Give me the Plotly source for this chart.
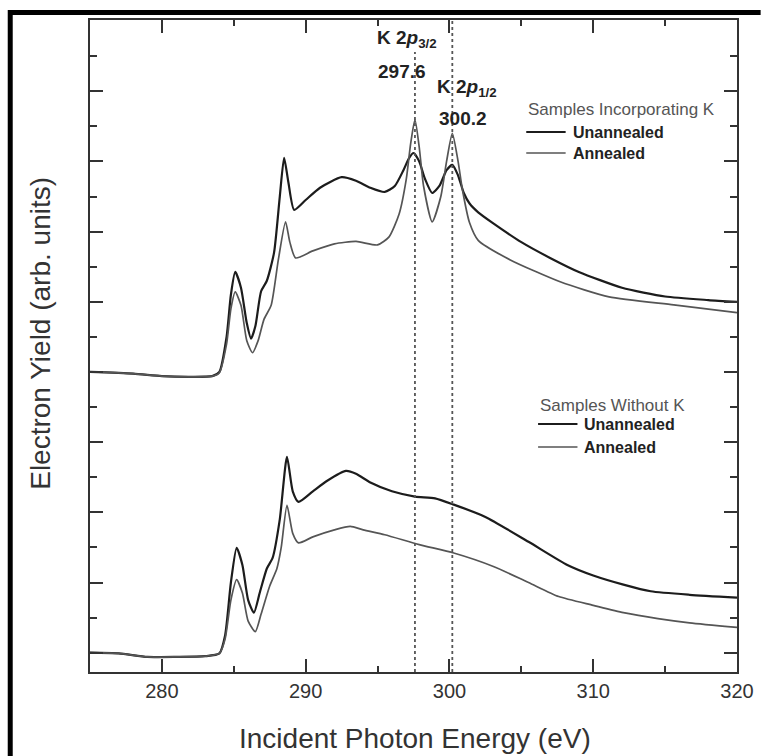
import plotly.graph_objects as go

# ---------------- data ----------------
# Samples incorporating K, unannealed
E_K_UNANN = [275, 278, 280, 282, 283.5, 284.0, 284.5, 284.8, 285.1, 285.5, 285.9, 286.2, 286.5, 286.9,
             287.3, 287.8, 288.2, 288.5, 288.8, 289.2, 290, 291, 292.5, 293.5, 294.5, 295.5, 296.2,
             296.8, 297.2, 297.5, 297.9, 298.3, 298.8, 299.3, 299.8, 300.2, 300.6, 301.0, 301.4, 302,
             303, 305, 307, 309, 312, 315, 318, 320]
Y_K_UNANN = [8.0, 7.95, 7.88, 7.86, 7.88, 8.0, 9.0, 10.2, 10.85, 10.4, 9.4, 8.95, 9.3, 10.3,
             10.6, 11.4, 13.0, 14.1, 13.4, 12.62, 12.9, 13.25, 13.55, 13.45, 13.25, 13.13, 13.3,
             13.75, 14.1, 14.24, 14.0, 13.5, 13.1, 13.3, 13.75, 13.9, 13.6, 13.1, 12.8, 12.55,
             12.25, 11.7, 11.25, 10.85, 10.4, 10.15, 10.05, 10.0]

# Samples incorporating K, annealed
E_K_ANN = [275, 278, 280, 282, 283.5, 284.0, 284.5, 284.8, 285.1, 285.5, 285.9, 286.3, 286.7, 287.1,
           287.6, 288.1, 288.6, 288.9, 289.3, 290.5, 292, 293.5, 295, 295.8, 296.5, 297.0, 297.3,
           297.6, 297.9, 298.2, 298.8, 299.4, 299.8, 300.2, 300.6, 300.9, 301.4, 302, 304.2, 307.7,
           311.1, 315.6, 320]
Y_K_ANN = [8.0, 7.95, 7.88, 7.86, 7.88, 7.98, 8.8, 9.8, 10.28, 9.9, 8.9, 8.55, 8.9, 9.5,
           9.9, 11.2, 12.28, 11.7, 11.25, 11.45, 11.65, 11.72, 11.62, 11.85, 12.5, 13.5, 14.5,
           15.19, 14.4, 13.3, 12.28, 13.0, 14.0, 14.8, 14.0, 13.2, 12.25, 11.75, 11.2, 10.57,
           10.14, 9.91, 9.69]

# Samples without K, unannealed
E_NOK_UNANN = [275, 277, 279, 281, 283, 284.0, 284.4, 284.8, 285.2, 285.6, 286.0, 286.4, 286.8, 287.3,
               287.7, 288.2, 288.7, 289.1, 289.5, 290.5, 291.5, 292.8, 293.5, 294.5, 296, 297.6, 299,
               300.3, 302.5, 305.5, 308.2, 310, 312.1, 314, 316.7, 320]
Y_NOK_UNANN = [0.0, -0.02, -0.12, -0.12, -0.1, -0.02, 0.5, 2.0, 2.99, 2.5, 1.5, 1.14, 1.7, 2.4,
               2.7, 3.8, 5.58, 4.6, 4.3, 4.6, 4.9, 5.18, 5.1, 4.85, 4.6, 4.45, 4.4,
               4.22, 3.87, 3.16, 2.5, 2.2, 1.94, 1.75, 1.65, 1.57]

# Samples without K, annealed
E_NOK_ANN = [275, 277, 279, 281, 283, 284.0, 284.4, 284.8, 285.2, 285.6, 286.0, 286.5, 286.9, 287.5,
             288.0, 288.3, 288.7, 289.1, 289.5, 290.5, 292, 293.1, 294, 295.5, 297.9, 300.3, 303.1,
             305.5, 307.6, 310, 312.1, 314.5, 316.7, 320]
Y_NOK_ANN = [0.0, -0.02, -0.12, -0.12, -0.1, -0.02, 0.4, 1.5, 2.08, 1.7, 0.9, 0.6, 1.1, 1.9,
             2.4, 3.0, 4.2, 3.4, 3.13, 3.3, 3.5, 3.6, 3.5, 3.36, 3.08, 2.84, 2.45,
             2.0, 1.6, 1.35, 1.14, 0.97, 0.85, 0.72]

PEAK_POS = [297.6, 300.2]
PEAK_LABELS = ["K 2<i>p</i><sub>3/2</sub>", "K 2<i>p</i><sub>1/2</sub>"]
PEAK_VALUES = ["297.6", "300.2"]

X_TICKS = [280, 290, 300, 310, 320]
X_RANGE = [275, 320]
Y_RANGE = [-0.55, 18.03]

# ---------------- figure geometry helpers ----------------
W, H = 766, 756
ML, MR, MT, MB = 90, 19, 20, 84
PW, PH = W - ML - MR, H - MT - MB


def px(p):
    return (p - ML) / PW


def py(p):
    return (H - MB - p) / PH


FONT = "Liberation Sans, Arial, sans-serif"
UNANN_COLOR = "#1c1c1c"
ANN_COLOR = "#555555"

fig = go.Figure()

series = [
    (E_K_UNANN, Y_K_UNANN, UNANN_COLOR, 2.2),
    (E_K_ANN, Y_K_ANN, ANN_COLOR, 1.7),
    (E_NOK_UNANN, Y_NOK_UNANN, UNANN_COLOR, 2.2),
    (E_NOK_ANN, Y_NOK_ANN, ANN_COLOR, 1.7),
]
for xs, ys, c, w in series:
    fig.add_trace(go.Scatter(x=xs, y=ys, mode="lines",
                             line=dict(color=c, width=w, shape="spline", smoothing=0.6),
                             showlegend=False, hoverinfo="skip"))

# dotted vertical markers at the K 2p peaks
dot_tops = [py(52), 1.0]
for xv, top in zip(PEAK_POS, dot_tops):
    fig.add_shape(type="line", xref="x", yref="paper", x0=xv, x1=xv, y0=0, y1=top,
                  line=dict(color="#555555", width=1.8, dash="dot"), layer="above")

annotations = []
# peak labels
lab_pos = [(379, 39), (440, 88)]
val_pos = [(380, 72), (442, 118)]
for lab, val, (lx, ly), (vx, vy) in zip(PEAK_LABELS, PEAK_VALUES, lab_pos, val_pos):
    annotations.append(dict(x=px(lx), y=py(ly), xref="paper", yref="paper", text="<b>" + lab + "</b>",
                            showarrow=False, xanchor="left", yanchor="middle",
                            font=dict(family=FONT, size=19, color="#222222")))
    annotations.append(dict(x=px(vx), y=py(vy), xref="paper", yref="paper", text="<b>" + val + "</b>",
                            showarrow=False, xanchor="left", yanchor="middle",
                            font=dict(family=FONT, size=19, color="#222222")))

# in-plot legends
legend_groups = [
    ("Samples Incorporating K", 533, 110, 533, 573, 578, [132, 153]),
    ("Samples Without K", 545, 405, 545, 585, 590, [424, 447]),
]
for title, tx, ty, lx0, lx1, txt_x, rows in legend_groups:
    annotations.append(dict(x=px(tx), y=py(ty), xref="paper", yref="paper", text=title,
                            showarrow=False, xanchor="left", yanchor="middle",
                            font=dict(family=FONT, size=17, color="#555555")))
    for (name, col, wd), ry in zip([("Unannealed", UNANN_COLOR, 2.2), ("Annealed", ANN_COLOR, 1.7)], rows):
        fig.add_shape(type="line", xref="paper", yref="paper", x0=px(lx0), x1=px(lx1),
                      y0=py(ry), y1=py(ry), line=dict(color=col, width=wd))
        annotations.append(dict(x=px(txt_x), y=py(ry), xref="paper", yref="paper", text="<b>" + name + "</b>",
                                showarrow=False, xanchor="left", yanchor="middle",
                                font=dict(family=FONT, size=16, color="#222222")))

# axis titles
annotations.append(dict(x=px(420), y=py(738), xref="paper", yref="paper",
                        text="Incident Photon Energy (eV)", showarrow=False,
                        xanchor="center", yanchor="middle",
                        font=dict(family=FONT, size=28, color="#333333")))
annotations.append(dict(x=px(39), y=py(333), xref="paper", yref="paper",
                        text="Electron Yield (arb. units)", showarrow=False, textangle=-90,
                        xanchor="center", yanchor="middle",
                        font=dict(family=FONT, size=28, color="#333333")))

# outer black frame of the image (left and top edges)
fig.add_shape(type="line", xref="paper", yref="paper", x0=px(9), x1=px(9), y0=py(10), y1=py(H + 5),
              line=dict(color="black", width=5))
fig.add_shape(type="line", xref="paper", yref="paper", x0=px(7), x1=px(W + 5), y0=py(12.5), y1=py(12.5),
              line=dict(color="black", width=5))

fig.update_layout(
    width=W, height=H,
    margin=dict(l=ML, r=MR, t=MT, b=MB),
    paper_bgcolor="white", plot_bgcolor="white",
    annotations=annotations,
    showlegend=False,
)
fig.update_xaxes(range=X_RANGE, tickvals=X_TICKS, ticks="inside", ticklen=13, tickwidth=2,
                 tickcolor="#333333", showline=True, linewidth=2, linecolor="#333333",
                 mirror="ticks", showgrid=False, zeroline=False,
                 tickfont=dict(family=FONT, size=20, color="#333333"),
                 minor=dict(tickvals=[285, 295, 305, 315], ticks="inside", ticklen=6,
                            tickwidth=2, tickcolor="#333333", showgrid=False))
fig.update_yaxes(range=Y_RANGE, tickvals=[0, 2, 4, 6, 8, 10, 12, 14, 16], ticks="inside", ticklen=13,
                 tickwidth=2, tickcolor="#333333", showticklabels=False, showline=True, linewidth=2,
                 linecolor="#333333", mirror="ticks", showgrid=False, zeroline=False,
                 minor=dict(tickvals=[1, 3, 5, 7, 9, 11, 13, 15, 17], ticks="inside", ticklen=7,
                            tickwidth=2, tickcolor="#333333", showgrid=False))

fig.write_html("out.html")
